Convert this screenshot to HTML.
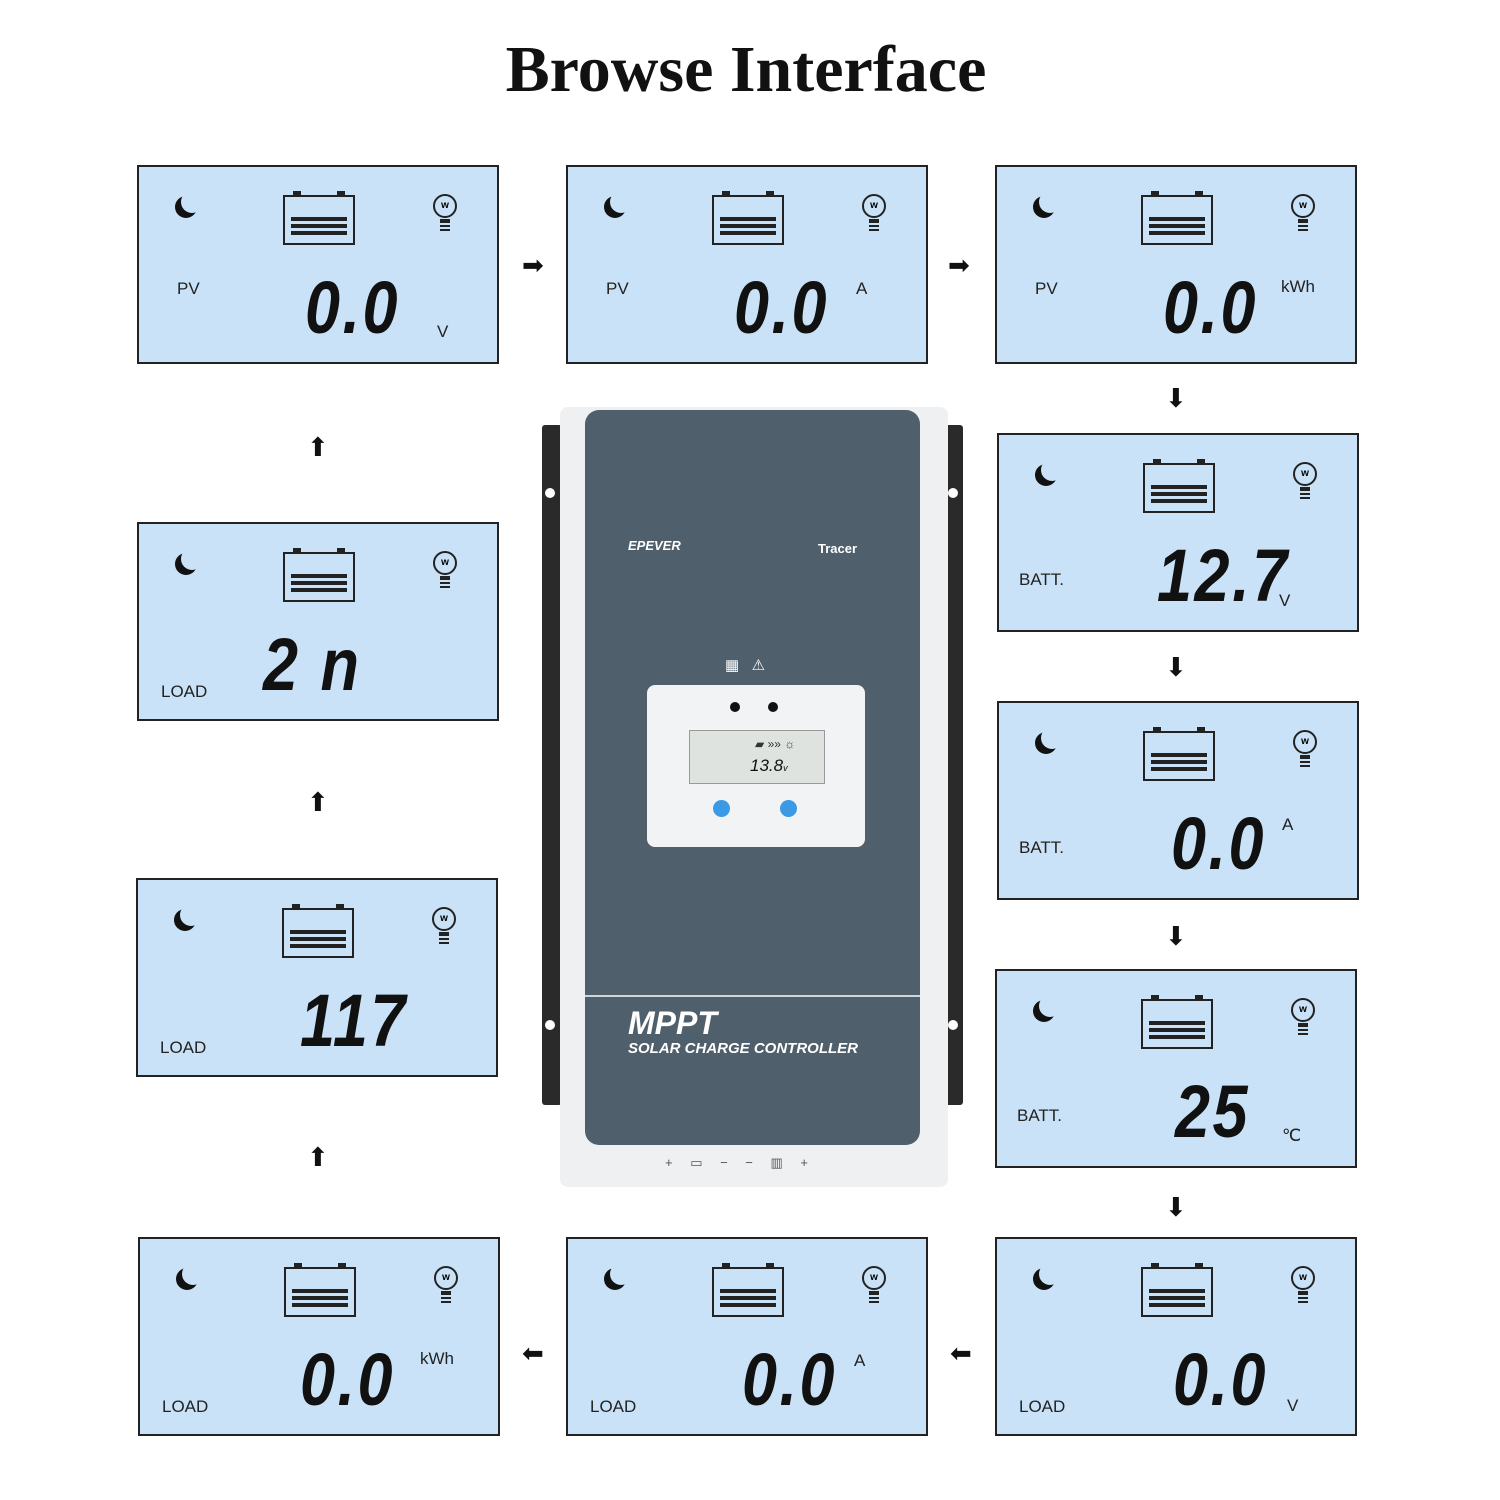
<!DOCTYPE html>
<html><head><meta charset="utf-8"><style>
body{margin:0;width:1500px;height:1500px;background:#fff;position:relative;overflow:hidden;font-family:"Liberation Sans",sans-serif}
.a{position:absolute}
.p{position:absolute;width:362px;height:199px;background:#c9e2f7;border:2px solid #222;box-sizing:border-box}
.moon{position:absolute;left:42px;top:24px;width:22px;height:22px;border-radius:50%;box-shadow:-6px 5px 0 0 #111;}
.bat{position:absolute;left:144px;top:28px;width:72px;height:50px;border:2px solid #222;box-sizing:border-box}
.bat:before,.bat:after{content:"";position:absolute;top:-6px;width:8px;height:4px;background:#222}
.bat:before{left:8px}.bat:after{right:8px}
.bar{position:absolute;left:6px;right:6px;height:4px;background:#222}
.bulb{position:absolute;left:294px;top:27px;width:20px;height:20px;border:2px solid #222;border-radius:50%;font:bold 10px "Liberation Sans";text-align:center;line-height:20px}
.bulb:after{content:"";position:absolute;left:5px;top:23px;width:10px;height:8px;border-top:2px solid #222;border-bottom:2px solid #222;background:repeating-linear-gradient(#222 0 2px,transparent 2px 4px)}
.lab{position:absolute;font-size:17px;color:#222}
.num{position:absolute;font:italic bold 74px "Liberation Sans",sans-serif;color:#111;letter-spacing:3px;transform:scaleX(0.85);transform-origin:left;line-height:74px}
.unit{position:absolute;font-size:17px;color:#222}
.arr{position:absolute;font-size:26px;color:#111;line-height:26px}
</style></head><body>
<div class="a" style="left:0;top:32px;width:1492px;text-align:center;font:bold 66px 'Liberation Serif',serif;color:#111">Browse Interface</div>
<div id="c"></div>

<div class="a" style="left:542px;top:425px;width:20px;height:680px;background:#2a2a2a;border-radius:3px"></div>
<div class="a" style="left:943px;top:425px;width:20px;height:680px;background:#2a2a2a;border-radius:3px"></div>
<div class="a" style="left:545px;top:488px;width:10px;height:10px;background:#fff;border-radius:50%"></div>
<div class="a" style="left:545px;top:1020px;width:10px;height:10px;background:#fff;border-radius:50%"></div>
<div class="a" style="left:948px;top:488px;width:10px;height:10px;background:#fff;border-radius:50%"></div>
<div class="a" style="left:948px;top:1020px;width:10px;height:10px;background:#fff;border-radius:50%"></div>
<div class="a" style="left:560px;top:407px;width:388px;height:780px;background:#eef0f1;border-radius:8px"></div>
<div class="a" style="left:585px;top:410px;width:335px;height:735px;background:#4f5f6b;border-radius:14px"></div>
<div class="a" style="left:585px;top:995px;width:335px;height:2px;background:#d0d5d8"></div>
<div class="a" style="left:628px;top:538px;font:italic bold 13px 'Liberation Sans';color:#fff">EPEVER</div>
<div class="a" style="left:818px;top:541px;font:bold 13px 'Liberation Sans';color:#fff">Tracer</div>
<div class="a" style="left:725px;top:656px;font-size:15px;color:#fff">▦ &nbsp; ⚠</div>
<div class="a" style="left:647px;top:685px;width:218px;height:162px;background:#f2f3f4;border-radius:8px"></div>
<div class="a" style="left:730px;top:702px;width:10px;height:10px;background:#111;border-radius:50%"></div>
<div class="a" style="left:768px;top:702px;width:10px;height:10px;background:#111;border-radius:50%"></div>
<div class="a" style="left:689px;top:730px;width:134px;height:52px;background:#dfe3df;border:1px solid #999"></div>
<div class="a" style="left:750px;top:756px;font:italic 17px 'Liberation Sans';color:#111">13.8<span style="font-size:9px">v</span></div>
<div class="a" style="left:755px;top:737px;font-size:12px;color:#333">▰ »» ☼</div>
<div class="a" style="left:713px;top:800px;width:17px;height:17px;background:#3a9ae6;border-radius:50%"></div>
<div class="a" style="left:780px;top:800px;width:17px;height:17px;background:#3a9ae6;border-radius:50%"></div>
<div class="a" style="left:628px;top:1005px;font:italic bold 32px 'Liberation Sans';color:#fff">MPPT</div>
<div class="a" style="left:628px;top:1040px;font:italic bold 15px 'Liberation Sans';color:#fff">SOLAR CHARGE CONTROLLER</div>
<div class="a" style="left:665px;top:1155px;font-size:13px;color:#555;word-spacing:14px">+ ▭ − − ▥ +</div>

<script>
// x,y,label,num,numX,unit,ux,uy
var P=[[137,165,'PV','0.0',166,'V',298,155],[566,165,'PV','0.0',166,'A',288,112],[995,165,'PV','0.0',166,'kWh',284,110],
[997,433,'BATT.','12.7',158,'V',280,156],[997,701,'BATT.','0.0',172,'A',283,112],[995,969,'BATT.','25',178,'℃',285,155],
[995,1237,'LOAD','0.0',176,'V',290,157],[566,1237,'LOAD','0.0',174,'A',286,112],[138,1237,'LOAD','0.0',160,'kWh',280,110],
[136,878,'LOAD','117',162,'',0,0],[137,522,'LOAD','2 n',124,'',0,0]];
var h='';
P.forEach(function(p){
 var lx=p[2]=='PV'?38:(p[2]=='BATT.'?20:22), ly=p[2]=='PV'?112:(p[2]=='BATT.'?135:158);
 h+='<div class="p" style="left:'+p[0]+'px;top:'+p[1]+'px">'+
 '<div class="moon"></div><div class="bat"><div class="bar" style="top:20px"></div><div class="bar" style="top:27px"></div><div class="bar" style="top:34px"></div></div>'+
 '<div class="bulb">w</div><div class="lab" style="left:'+lx+'px;top:'+ly+'px">'+p[2]+'</div>'+
 '<div class="num" style="left:'+p[4]+'px;top:104px">'+p[3]+'</div>'+
 (p[5]?'<div class="unit" style="left:'+p[6]+'px;top:'+p[7]+'px">'+p[5]+'</div>':'')+'</div>';
});
var A=[[522,252,'➡'],[948,252,'➡'],[1165,385,'⬇'],[1165,654,'⬇'],[1165,923,'⬇'],[1165,1194,'⬇'],[522,1340,'⬅'],[950,1340,'⬅'],[307,434,'⬆'],[307,789,'⬆'],[307,1144,'⬆']];
A.forEach(function(a){h+='<div class="arr" style="left:'+a[0]+'px;top:'+a[1]+'px">'+a[2]+'</div>';});
document.getElementById('c').innerHTML=h;
</script>
</body></html>
